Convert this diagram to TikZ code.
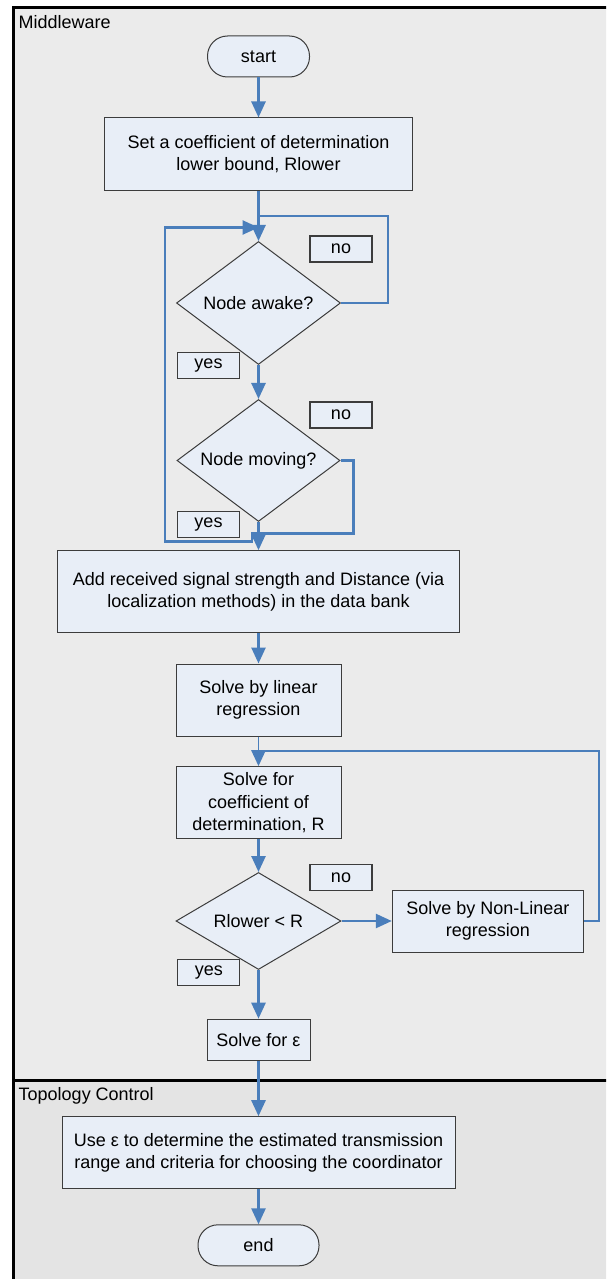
\documentclass[tikz,border=0pt]{standalone}
\usepackage{fontspec}
\setmainfont{Liberation Sans}
\usetikzlibrary{arrows.meta,shapes.geometric}
\definecolor{flowblue}{RGB}{74,126,187}
\definecolor{boxfill}{RGB}{232,238,247}
\definecolor{boxline}{RGB}{60,60,60}
\definecolor{lanebga}{RGB}{235,235,235}
\definecolor{lanebgb}{RGB}{228,228,228}
\tikzset{
  proc/.style={draw=boxline, fill=boxfill, line width=1pt, inner sep=0pt, align=center},
  term/.style={proc, rounded corners=20pt},
  decision/.style={diamond, draw=boxline, fill=boxfill, line width=1pt, inner sep=0pt, align=center},
  tag/.style={draw=boxline, fill=boxfill, line width=1.3pt, inner sep=0pt, minimum width=62pt, minimum height=26pt},
  lane/.style={anchor=west, inner sep=0pt},
  link/.style={draw=flowblue, line width=2.6pt},
  flow/.style={link, -{Triangle[length=16pt,width=14pt]}},
  thinlink/.style={draw=flowblue, line width=1pt},
  frame/.style={draw=black, line width=2.6pt}
}
\begin{document}
\begin{tikzpicture}[x=1pt,y=-1pt,font=\fontsize{18}{22.3}\selectfont]
\clip (0,0) rectangle (606,1279);
% lanes
\fill[lanebga] (13.3,7.3) rectangle (640,1080.7);
\fill[lanebgb] (13.3,1080.7) rectangle (640,1300);
\draw[frame] (640,7.3) -- (13.3,7.3) -- (13.3,1300);
\draw[frame] (13.3,1080.7) -- (640,1080.7);
\node[lane] (mw) at (18.5,22) {Middleware};
\node[lane] (tc) at (18.5,1096) {Topology Control};
% nodes
\node[term, minimum width=102pt, minimum height=41pt] (start) at (258.5,56.5) {start};
\node[proc, minimum width=308pt, minimum height=72pt] (b1) at (258.5,154) {Set a coefficient of determination\\lower bound, Rlower};
\node[decision, minimum width=164pt, minimum height=123pt, shape aspect=1.33] (d1) at (258.5,303) {Node awake?};
\node[tag] (no1) at (341,249) {no};
\node[tag] (yes1) at (208.5,365.3) {yes};
\node[decision, minimum width=163pt, minimum height=122pt, shape aspect=1.33] (d2) at (258.5,460.5) {Node moving?};
\node[tag] (no2) at (341,415) {no};
\node[tag] (yes2) at (208.5,524.5) {yes};
\node[proc, minimum width=402pt, minimum height=82pt] (b3) at (258.5,591.7) {Add received signal strength and Distance (via\\localization methods) in the data bank};
\node[proc, minimum width=165pt, minimum height=72pt] (b4) at (258.5,700) {Solve by linear\\regression};
\node[proc, minimum width=165pt, minimum height=72pt] (b5) at (258.5,802.7) {Solve for\\coefficient of\\determination, R};
\node[decision, minimum width=165pt, minimum height=97pt, shape aspect=1.7] (d3) at (258.5,921) {Rlower < R};
\node[tag] (no3) at (341,877.5) {no};
\node[proc, minimum width=191pt, minimum height=62pt] (nl) at (487.8,921) {Solve by Non-Linear\\regression};
\node[tag] (yes3) at (208.8,972.5) {yes};
\node[proc, minimum width=103pt, minimum height=41pt] (b6) at (258.5,1039.7) {Solve for ε};
\node[proc, minimum width=393pt, minimum height=72pt] (b7) at (258.5,1152.7) {Use ε to determine the estimated transmission\\range and criteria for choosing the coordinator};
\node[term, minimum width=121pt, minimum height=41pt] (end) at (258.5,1245.3) {end};
% helper coordinates
\coordinate (ja) at (258.5,227.5);
\coordinate (jn) at (258.5,216);
\coordinate (nc1) at (388,216);
\coordinate (j2) at (258.5,533.5);
\coordinate (nc2) at (353.3,533.5);
\coordinate (la) at (252,533.5);
\coordinate (lb) at (252,541.7);
\coordinate (lc) at (165,541.7);
\coordinate (ld) at (165,227.5);
\coordinate (j3) at (258.5,751);
\coordinate (nc3) at (599,751);
% connectors
\draw[flow] (start) -- (b1);
\draw[flow] (b1) -- (d1);
\draw[link] (d1.east) -| (nc1) -- (jn);
\draw[flow] (d1) -- (d2);
\draw[link] (d2.east) -| (nc2) -- (j2);
\draw[flow] (j2) -- (la) -- (lb) -- (lc) -- (ld) -- (ja);
\draw[flow] (d2) -- (b3);
\draw[flow] (b3) -- (b4);
\draw[thinlink] (b4) -- (j3);
\draw[flow] (nl.east) -| (nc3) -- (j3) -- (b5);
\draw[flow] (b5) -- (d3);
\draw[flow] (d3) -- (nl);
\draw[flow] (d3) -- (b6);
\draw[flow] (b6) -- (b7);
\draw[flow] (b7) -- (end);
\end{tikzpicture}
\end{document}
